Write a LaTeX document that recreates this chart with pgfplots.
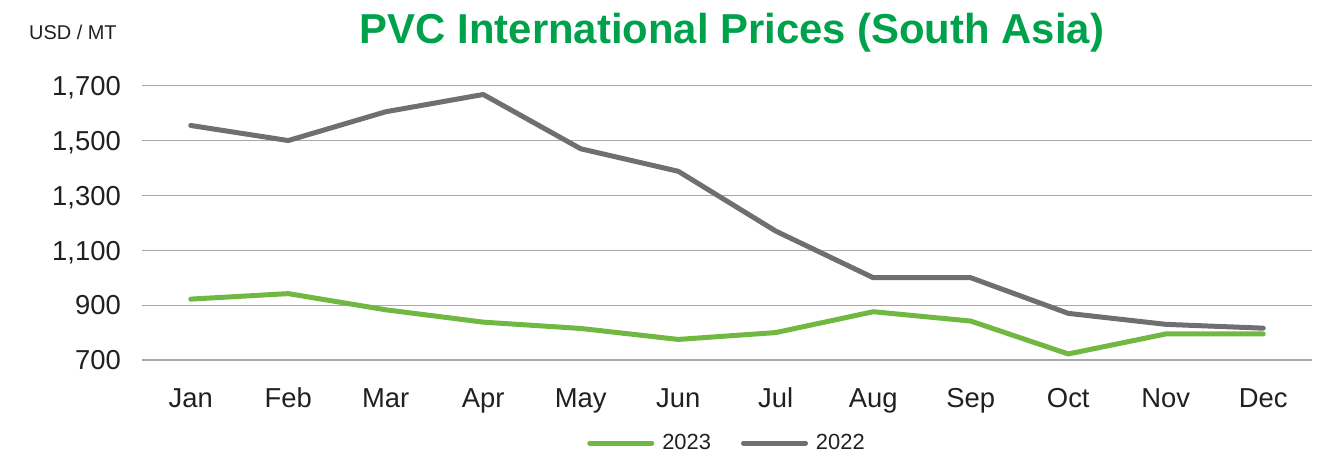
\documentclass[border=0pt]{standalone}
\usepackage{fontspec}
\setmainfont{Liberation Sans}
\usepackage{pgfplots}
\pgfplotsset{compat=1.18}
\definecolor{pvcgreen}{HTML}{71B843}
\definecolor{pvcgray}{HTML}{6F6F6F}
\definecolor{titlegreen}{HTML}{00A14B}
\definecolor{gridgray}{HTML}{A8A8A8}
\definecolor{txt}{HTML}{231F20}

\begin{document}
\begin{tikzpicture}
% page = 1320 x 457 bp, axis box starts at (142,360) px
\path[use as bounding box] (-142bp,-97bp) rectangle (1178bp,360bp);
\begin{axis}[
    scale only axis, width=1170bp, height=274.3bp,
    xmin=-0.5, xmax=11.5, ymin=700, ymax=1700,
    clip=false,
    axis line style={draw=none},
    major tick length=0pt,
    ytick={700,900,...,1700},
    xtick={0,...,11},
    xticklabels={Jan,Feb,Mar,Apr,May,Jun,Jul,Aug,Sep,Oct,Nov,Dec},
    ymajorgrids, grid style={gridgray, line width=1.2bp},
    /pgf/number format/.cd, 1000 sep={,}, assume math mode=true, /pgfplots/.cd,
    yticklabel style={font=\fontsize{27.5}{30}\selectfont, text=txt, anchor=base east,
                      inner sep=0pt, xshift=-21bp, yshift=-9.8bp},
    xticklabel style={font=\fontsize{27.5}{30}\selectfont, text=txt, anchor=base,
                      inner sep=0pt, yshift=-47bp},
    legend columns=2,
    legend style={at={(axis description cs:0.5,-0.3026)}, anchor=center, draw=none, fill=none,
                  font=\fontsize{22}{26}\selectfont, text=txt,
                  /tikz/every odd column/.append style={column sep=6bp},
                  /tikz/every even column/.append style={column sep=28bp}},
    legend image code/.code={\draw[#1, line cap=round] (0bp,0bp) -- (62bp,0bp);},
]
\addplot[pvcgreen, line width=5bp, line cap=round, line join=round] coordinates {
    (0,922) (1,942) (2,883) (3,838) (4,815) (5,775)
    (6,800) (7,876) (8,842) (9,722) (10,795) (11,795)
};
\addlegendentry{2023}
\addplot[pvcgray, line width=5bp, line cap=round, line join=round] coordinates {
    (0,1555) (1,1500) (2,1605) (3,1668) (4,1470) (5,1388)
    (6,1170) (7,1000) (8,1000) (9,870) (10,830) (11,816)
};
\addlegendentry{2022}
\end{axis}
\node[anchor=base, inner sep=0pt, text=titlegreen, font=\fontsize{42}{46}\selectfont\bfseries]
    at (590bp,316.7bp) {PVC International Prices (South Asia)};
\node[anchor=base west, inner sep=0pt, text=txt, font=\fontsize{20}{24}\selectfont]
    at (-113bp,320bp) {USD / MT};
\end{tikzpicture}
\end{document}
